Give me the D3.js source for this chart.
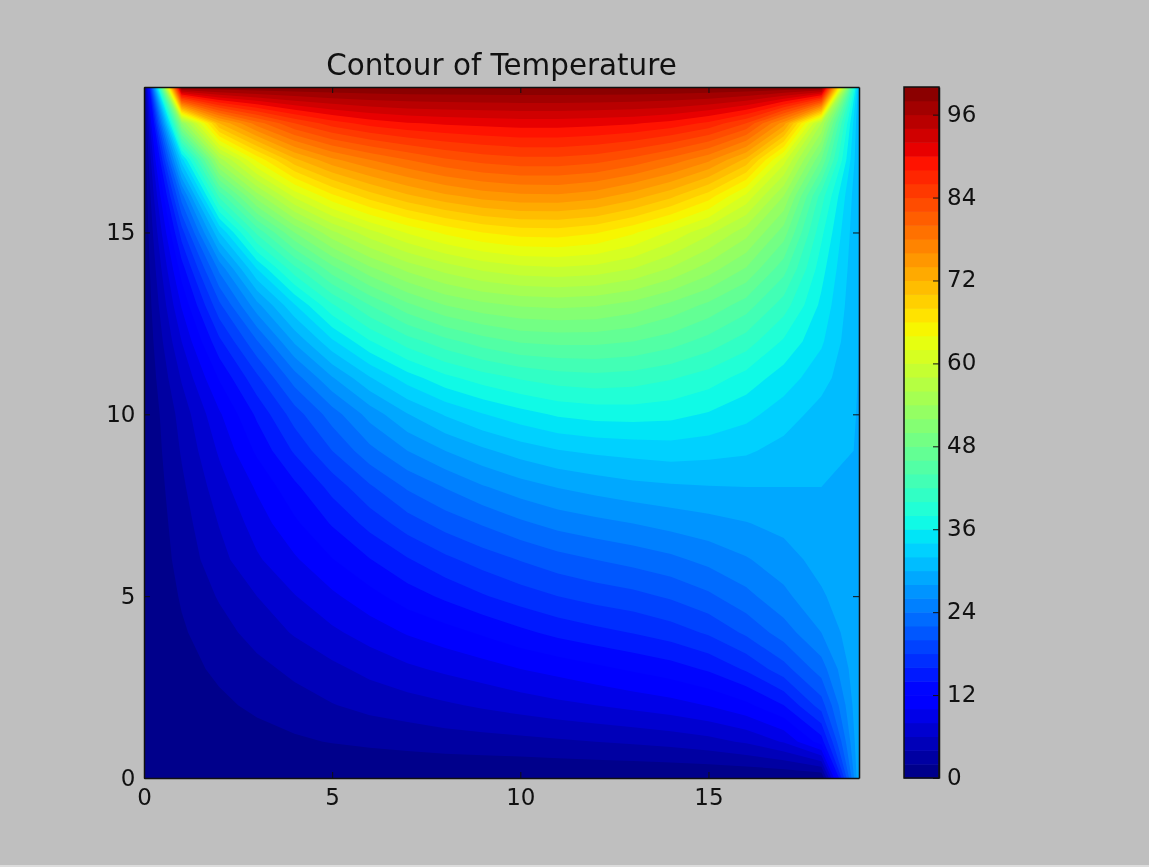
<!DOCTYPE html>
<html>
<head>
<meta charset="utf-8">
<script src="https://cdnjs.cloudflare.com/ajax/libs/d3/7.8.5/d3.min.js"></script>
<style>
  html, body { margin: 0; padding: 0; background: #bfbfbf; overflow: hidden; }
  svg { display: block; filter: blur(0.6px); }
  text { font-family: "DejaVu Sans", sans-serif; fill: #111; }
  .axis path, .axis line { stroke: #111; }
</style>
</head>
<body>
<svg id="chart" width="1149" height="867"></svg>
<script>
'use strict';
/* temperature, one row per y = 0..19, one column per x = 0..19 */
var row00 = [0,0,0,0,0,0,0,0,0,0,0,0,0,0,0,0,0,0,0,29.9];
var row01 = [0,0.5,0.8,1.2,1.7,2.1,2.4,2.7,3,3.2,3.4,3.7,4,4.3,4.7,5.3,6.3,8.2,13,29.9];
var row02 = [0,1,1.6,2.4,3.1,3.9,4.6,5.1,5.7,6.3,6.9,7.5,8,8.6,9.2,10.1,11.5,14,19,29.9];
var row03 = [0,1.3,2.4,3.4,4.5,5.5,6.6,7.6,8.4,9.1,10,10.7,11.5,12.3,13.1,14.3,16.3,19.2,23,29.9];
var row04 = [0,1.75,3.2,4.8,6.2,7.6,8.9,10.2,11.2,12.3,13.5,14.6,15.4,16.1,17,18.3,20.4,23,26,29.9];
var row05 = [0,2.2,4.2,6,7.9,9.6,11.3,13,14.4,15.8,17,18,18.8,19.4,20.3,21.6,23.4,25.5,27.7,29.9];
var row06 = [0,2.7,5.3,7.7,9.7,11.9,13.9,15.8,17.5,18.9,20.1,21.2,22,22.7,23.5,24.6,25.8,27.1,28.8,29.9];
var row07 = [0,3.1,6.1,8.9,11.6,14.2,16.7,19,20.8,22.2,23.6,24.7,25.4,26,26.7,27.3,27.9,28.6,29.4,29.9];
var row08 = [0,3.6,7.1,10.3,13.5,16.7,19.7,22.3,24.1,25.8,27.1,28.1,28.8,29.4,29.7,29.9,30,30,30,29.9];
var row09 = [0,4.2,8.3,12.4,16.3,20,23.4,26,28,29.6,30.9,31.9,32.4,32.7,33,32.7,32.3,31.3,30.6,29.9];
var row10 = [0,4.8,9.7,14.4,19,23,26.8,29.9,32.2,33.9,35.2,36.3,36.8,36.9,36.6,35.8,34.6,33,31.2,29.9];
var row11 = [0,6.2,12.2,17.5,23,27.8,31.8,35,37.4,39,40.2,41,41.3,41,40.2,39,37.2,35,32.8,29.9];
var row12 = [0,8,15.5,21.8,28.3,33.6,37.8,41,43.3,45,46.2,46.5,46.5,46,44.9,43.2,41,37.7,34.3,29.9];
var row13 = [0,10.2,19.5,27.3,33.8,39.7,44,47.5,50,51.4,52.2,52.5,52.2,51.2,49.5,47.5,45,41,35.5,29.9];
var row14 = [0,13,24.5,34,41.3,47.2,51.5,54.6,56.8,58.4,59.3,59.6,59.2,58,55.8,53,49.8,44.8,36.8,29.9];
var row15 = [0,17,32,42.5,50,55.5,59.3,62.2,64.4,66,66.9,67,66.2,64.3,61.6,58.5,54.8,49,38.5,29.9];
var row16 = [0,23,42.5,53,60.5,65.5,69,71.6,73.5,74.8,75.5,75.6,74.8,73,70.5,67,61.5,54,41,29.9];
var row17 = [0,33,55,64.5,71.5,75.5,78,80,81.7,82.8,83.4,83.4,82.8,81.4,79.3,76.5,71.5,61,48,29.9];
var row18 = [0,52,72,79,84,87,88.8,89.8,90.3,90.6,90.9,90.9,90.6,90.2,89.3,87.5,84,75,56,29.9];
var row19 = [0,100,100,100,100,100,100,100,100,100,100,100,100,100,100,100,100,100,100,29.9];
var rows = [row00,row01,row02,row03,row04,row05,row06,row07,row08,row09,
            row10,row11,row12,row13,row14,row15,row16,row17,row18,row19];

var levels = d3.range(0, 100, 2);
var axisTicks = [0, 5, 10, 15];
var colorbarTicks = [0, 12, 24, 36, 48, 60, 72, 84, 96];
var titleText = 'Contour of Temperature';

var nx = 20, ny = 20;
var left = 144, right = 859, top_ = 87, bottom = 778;
var cbLeft = 904, cbRight = 939;

/* jet colormap */
function channel(stops, vals) {
  return d3.scaleLinear().domain(stops).range(vals).clamp(true);
}
var jetR = channel([0, 0.35, 0.66, 0.89, 1], [0, 0, 255, 255, 127]);
var jetG = channel([0, 0.125, 0.375, 0.64, 0.91, 1], [0, 0, 255, 255, 0, 0]);
var jetB = channel([0, 0.11, 0.34, 0.65, 1], [127, 255, 255, 0, 0]);
function jet(v) {
  var t = v / 100;
  return d3.rgb(jetR(t), jetG(t), jetB(t)).formatHex();
}

var svg = d3.select('#chart');
var x = d3.scaleLinear().domain([0, 19]).range([left, right]);
var y = d3.scaleLinear().domain([0, 19]).range([bottom, top_]);
var cb = d3.scaleLinear().domain([0, 100]).range([bottom, top_]);

/* pale strip along the bottom edge of the screenshot */
svg.append('rect')
  .attr('x', 0).attr('y', 865)
  .attr('width', 1149).attr('height', 2)
  .attr('fill', '#dcdcdc');

svg.append('defs').append('clipPath').attr('id', 'plot')
  .append('rect')
  .attr('x', left).attr('y', top_)
  .attr('width', right - left).attr('height', bottom - top_);

/* filled contours, each level painted over the one below */
var contours = d3.contours().size([nx, ny]).smooth(true).thresholds(levels)(d3.merge(rows));
var path = d3.geoPath(d3.geoTransform({
  point: function(px, py) {
    this.stream.point(x(px - 0.5), y(py - 0.5));
  }
}));
svg.append('g').attr('clip-path', 'url(#plot)')
  .selectAll('path')
  .data(contours)
  .enter()
  .append('path')
  .attr('d', path)
  .attr('fill', function(d) { return jet(d.value + 1); });

/* colorbar */
svg.append('g').selectAll('rect')
  .data(levels)
  .enter()
  .append('rect')
  .attr('x', cbLeft)
  .attr('width', cbRight - cbLeft)
  .attr('y', function(d) { return cb(d + 2); })
  .attr('height', function(d) { return cb(d) - cb(d + 2) + 0.5; })
  .attr('fill', function(d) { return jet(d + 1); });

function addAxis(axis, tx, ty) {
  var g = svg.append('g')
    .attr('class', 'axis')
    .attr('transform', 'translate(' + tx + ',' + ty + ')')
    .call(axis);
  g.selectAll('path').attr('stroke-width', 1.5);
  g.selectAll('line').attr('stroke-width', 1);
  g.selectAll('text').style('font-size', '23px');
  return g;
}
function noLabel() { return ''; }

addAxis(d3.axisBottom(x).tickValues(axisTicks).tickSizeInner(-6).tickSizeOuter(0).tickPadding(10.7), 0, bottom);
addAxis(d3.axisTop(x).tickValues(axisTicks).tickFormat(noLabel).tickSizeInner(-6).tickSizeOuter(0), 0, top_);
addAxis(d3.axisLeft(y).tickValues(axisTicks).tickSizeInner(-6).tickSizeOuter(0).tickPadding(8.5), left, 0);
addAxis(d3.axisRight(y).tickValues(axisTicks).tickFormat(noLabel).tickSizeInner(-6).tickSizeOuter(0), right, 0);

/* colorbar frame and ticks */
addAxis(d3.axisRight(cb).tickValues(colorbarTicks).tickSizeInner(-6).tickSizeOuter(0).tickPadding(8), cbRight, 0)
  .selectAll('text').attr('dy', '0.28em');
svg.append('rect')
  .attr('x', cbLeft).attr('y', top_)
  .attr('width', cbRight - cbLeft).attr('height', bottom - top_)
  .attr('fill', 'none').attr('stroke', '#111').attr('stroke-width', 1.5);

svg.append('text')
  .attr('x', (left + right) / 2)
  .attr('y', 75)
  .attr('text-anchor', 'middle')
  .style('font-size', '29.4px')
  .text(titleText);
</script>
</body>
</html>
